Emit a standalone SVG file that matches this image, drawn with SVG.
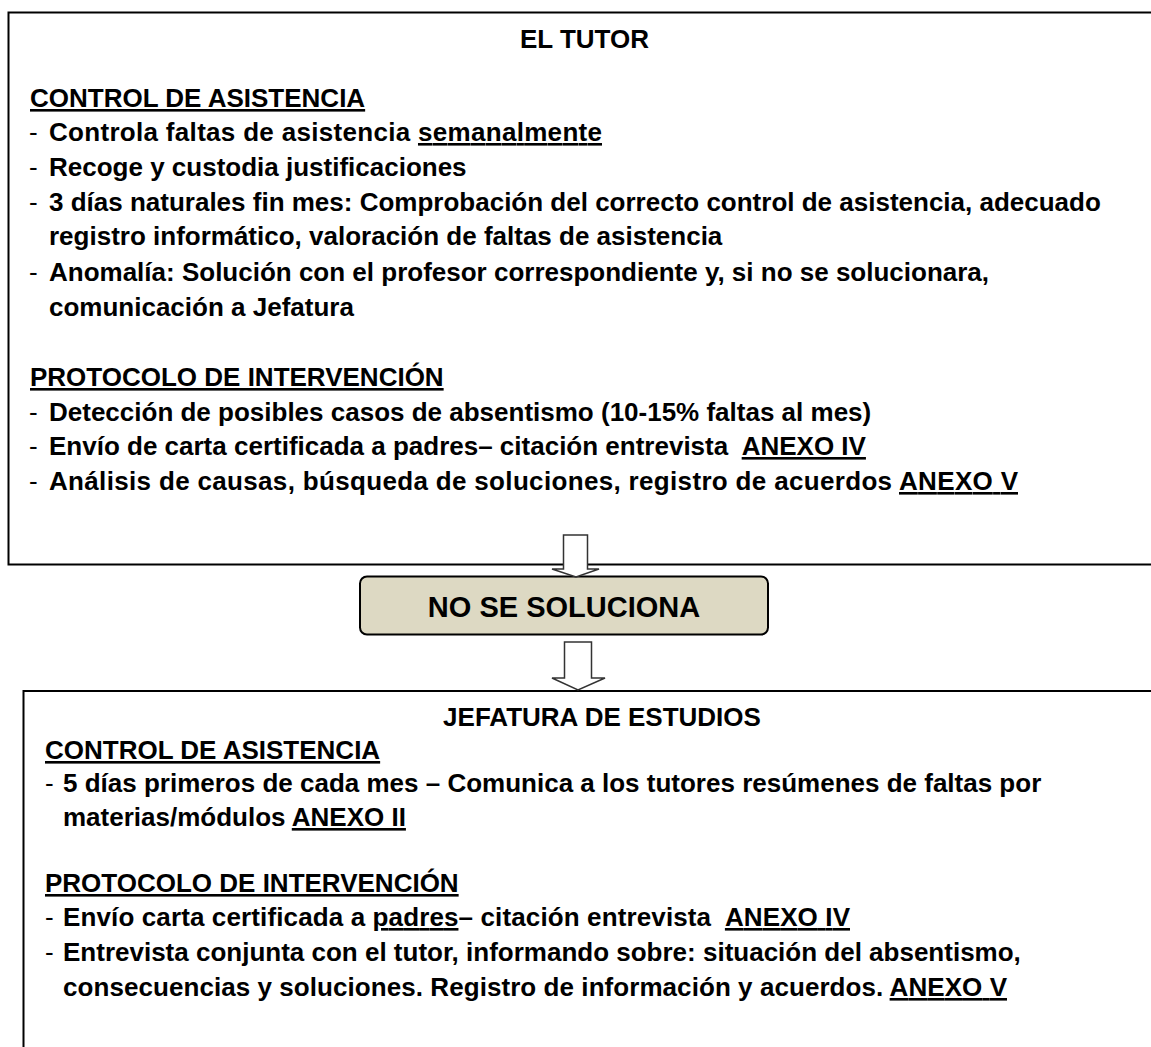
<svg xmlns="http://www.w3.org/2000/svg" width="1151" height="1047" viewBox="0 0 1151 1047">
<style>
text{font-family:"Liberation Sans",Arial,sans-serif;font-size:26px;font-weight:bold;fill:#000;white-space:pre}
.d{font-weight:normal}
.u{text-decoration:underline}
.c{text-anchor:middle}
.box{fill:#fff;stroke:#000;stroke-width:2}
.arr{fill:#fff;stroke:#333;stroke-width:1.5;stroke-linejoin:miter}
</style>
<rect width="1151" height="1047" fill="#fff"/>
<g id="node-tutor">
<rect class="box" x="8.5" y="12.5" width="1160" height="552"/>
<text class="c" x="584.5" y="48">EL TUTOR</text>
<text class="u" x="30" y="107">CONTROL DE ASISTENCIA</text>
<text class="d" x="29" y="141">-</text><text x="49" y="141" textLength="553" lengthAdjust="spacing">Controla faltas de asistencia <tspan class="u">semanalmente</tspan></text>
<text class="d" x="29" y="176">-</text><text x="49" y="176">Recoge y custodia justificaciones</text>
<text class="d" x="29" y="211">-</text><text x="49" y="211">3 días naturales fin mes: Comprobación del correcto control de asistencia, adecuado</text>
<text x="49" y="245">registro informático, valoración de faltas de asistencia</text>
<text class="d" x="29" y="281">-</text><text x="49" y="281">Anomalía: Solución con el profesor correspondiente y, si no se solucionara,</text>
<text x="49" y="316">comunicación a Jefatura</text>
<text class="u" x="30" y="386">PROTOCOLO DE INTERVENCIÓN</text>
<text class="d" x="29" y="421">-</text><text x="49" y="421">Detección de posibles casos de absentismo (10-15% faltas al mes)</text>
<text class="d" x="29" y="455">-</text><text x="49" y="455">Envío de carta certificada a padres– citación entrevista  <tspan class="u">ANEXO IV</tspan></text>
<text class="d" x="29" y="490">-</text><text x="49" y="490" textLength="969" lengthAdjust="spacing">Análisis de causas, búsqueda de soluciones, registro de acuerdos <tspan class="u">ANEXO V</tspan></text>
</g>
<g id="node-no-soluciona">
<rect x="360" y="576.5" width="408" height="58" rx="7" ry="7" fill="#DDD9C3" stroke="#000" stroke-width="2"/>
<text class="c" x="564" y="617" style="font-size:29px">NO SE SOLUCIONA</text>
</g>
<g id="node-jefatura">
<rect class="box" x="23.5" y="691" width="1170" height="400"/>
<text class="c" x="602" y="726">JEFATURA DE ESTUDIOS</text>
<text class="u" x="45" y="759">CONTROL DE ASISTENCIA</text>
<text class="d" x="45" y="792">-</text><text x="63" y="792">5 días primeros de cada mes – Comunica a los tutores resúmenes de faltas por</text>
<text x="63" y="826">materias/módulos <tspan class="u">ANEXO II</tspan></text>
<text class="u" x="45" y="892">PROTOCOLO DE INTERVENCIÓN</text>
<text class="d" x="45" y="926">-</text><text x="63" y="926" textLength="787" lengthAdjust="spacing">Envío carta certificada a <tspan class="u">padres</tspan>– citación entrevista  <tspan class="u">ANEXO IV</tspan></text>
<text class="d" x="45" y="961">-</text><text x="63" y="961">Entrevista conjunta con el tutor, informando sobre: situación del absentismo,</text>
<text x="63" y="996" textLength="944" lengthAdjust="spacing">consecuencias y soluciones. Registro de información y acuerdos. <tspan class="u">ANEXO V</tspan></text>
</g>
<g id="connectors">
<path class="arr" d="M563.5,535 H587.5 V569 H599 L576,577 L552,569 H563.5 Z"/>
<path class="arr" d="M564.5,642 H591.5 V678 H605 L578,690 L552,678 H564.5 Z"/>
</g>
</svg>
